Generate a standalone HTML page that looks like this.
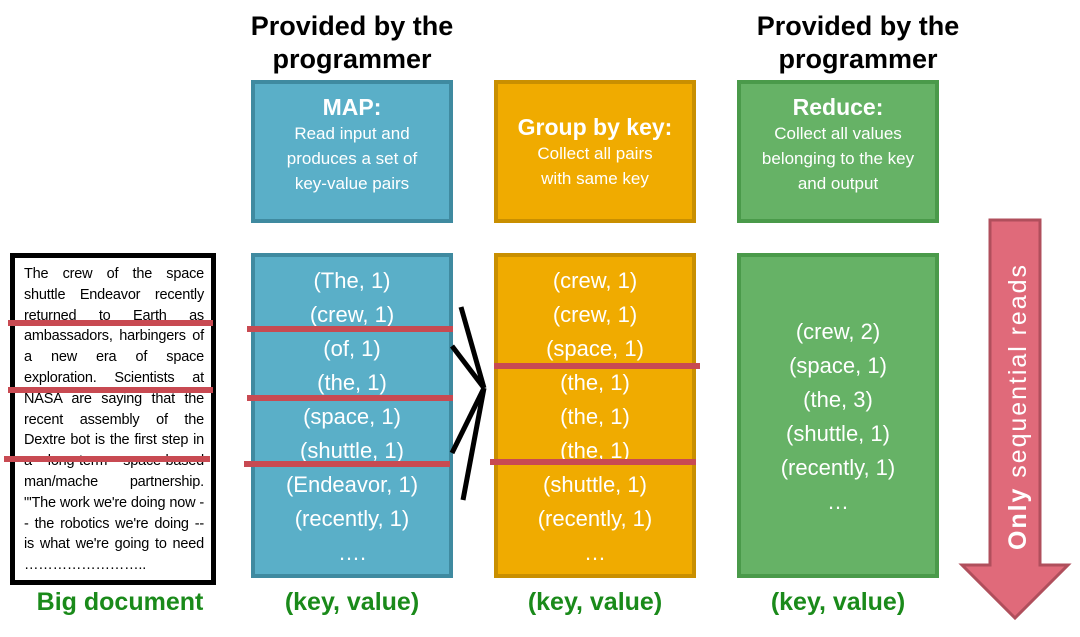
<!DOCTYPE html>
<html><head><style>
body{margin:0;width:1080px;height:637px;background:#fff;position:relative;overflow:hidden;font-family:"Liberation Sans",sans-serif}
.a{position:absolute}
.hd{font-weight:bold;font-size:27px;text-align:center;color:#000;line-height:33px}
.box{position:absolute;box-sizing:border-box;border:4px solid;color:#fff;text-align:center}
.b{background:#5aafc8;border-color:#3f8aa0}
.o{background:#f0ab00;border-color:#c98f00}
.g{background:#66b266;border-color:#4a9a4a}
.t1{font-size:23px;font-weight:bold;margin-top:10px;white-space:nowrap}
.t2{font-size:17px;line-height:25px}
.lst{font-size:22px;line-height:34px}
.red{position:absolute;height:6px;background:#c84a52}
.kv{position:absolute;font-weight:bold;font-size:25px;color:#1a8a1a;text-align:center}
</style></head><body>
<div class="a hd" style="left:232px;top:10px;width:240px">Provided by the<br>programmer</div>
<div class="a hd" style="left:728px;top:10px;width:260px">Provided by the<br>programmer</div>

<div class="box b" style="left:251px;top:80px;width:202px;height:143px"><div class="t1">MAP:</div><div class="t2" style="padding:0 20px">Read input and produces a set of key-value pairs</div></div>
<div class="box o" style="left:494px;top:80px;width:202px;height:143px"><div class="t1" style="margin-top:30px">Group by key:</div><div class="t2" style="padding:0 28px">Collect all pairs with same key</div></div>
<div class="box g" style="left:737px;top:80px;width:202px;height:143px"><div class="t1">Reduce:</div><div class="t2" style="padding:0 18px">Collect all values belonging to the key and output</div></div>

<div class="a" style="left:10px;top:253px;height:316px;border:5px solid #000;padding:6px 7px 0 9px;font-size:14.5px;letter-spacing:-0.2px;line-height:20.8px;text-align:justify;color:#000;box-sizing:content-box;width:180px">The crew of the space shuttle Endeavor recently returned to Earth as ambassadors, harbingers of a new era of space exploration. Scientists at NASA are saying that the recent assembly of the Dextre bot is the first step in a long-term space-based man/mache partnership. "'The work we're doing now -- the robotics we're doing -- is what we're going to need ……………………..</div>

<div class="box b lst" style="left:251px;top:253px;width:202px;height:325px;padding-top:7px">(The, 1)<br>(crew, 1)<br>(of, 1)<br>(the, 1)<br>(space, 1)<br>(shuttle, 1)<br>(Endeavor, 1)<br>(recently, 1)<br>….</div>
<div class="box o lst" style="left:494px;top:253px;width:202px;height:325px;padding-top:7px">(crew, 1)<br>(crew, 1)<br>(space, 1)<br>(the, 1)<br>(the, 1)<br>(the, 1)<br>(shuttle, 1)<br>(recently, 1)<br>…</div>
<div class="box g lst" style="left:737px;top:253px;width:202px;height:325px;padding-top:58px">(crew, 2)<br>(space, 1)<br>(the, 3)<br>(shuttle, 1)<br>(recently, 1)<br>…</div>

<div class="red" style="left:8px;top:320px;width:205px"></div>
<div class="red" style="left:8px;top:387px;width:205px"></div>
<div class="red" style="left:4px;top:456px;width:206px"></div>
<div class="red" style="left:247px;top:326px;width:206px"></div>
<div class="red" style="left:247px;top:395px;width:206px"></div>
<div class="red" style="left:244px;top:461px;width:206px"></div>
<div class="red" style="left:494px;top:363px;width:206px"></div>
<div class="red" style="left:490px;top:459px;width:206px"></div>

<svg class="a" style="left:0;top:0" width="1080" height="637">
<g stroke="#000" stroke-width="5" fill="none">
<line x1="461" y1="307" x2="484" y2="388"/>
<line x1="452" y1="346" x2="484" y2="388"/>
<line x1="452" y1="453" x2="484" y2="388"/>
<line x1="463" y1="500" x2="484" y2="388"/>
</g>
<polygon points="990,220 1040,220 1040,565 1068,565 1015,618 962,565 990,565" fill="#e06a7a" stroke="#b04f5c" stroke-width="3"/>
<text transform="translate(1026,550) rotate(-90)" fill="#fff" font-size="25" font-family="Liberation Sans,sans-serif" textLength="285"><tspan font-weight="bold">Only</tspan>  sequential  reads</text>
</svg>

<div class="kv" style="left:10px;top:588px;width:220px">Big document</div>
<div class="kv" style="left:251px;top:588px;width:202px">(key, value)</div>
<div class="kv" style="left:494px;top:588px;width:202px">(key, value)</div>
<div class="kv" style="left:737px;top:588px;width:202px">(key, value)</div>
</body></html>
